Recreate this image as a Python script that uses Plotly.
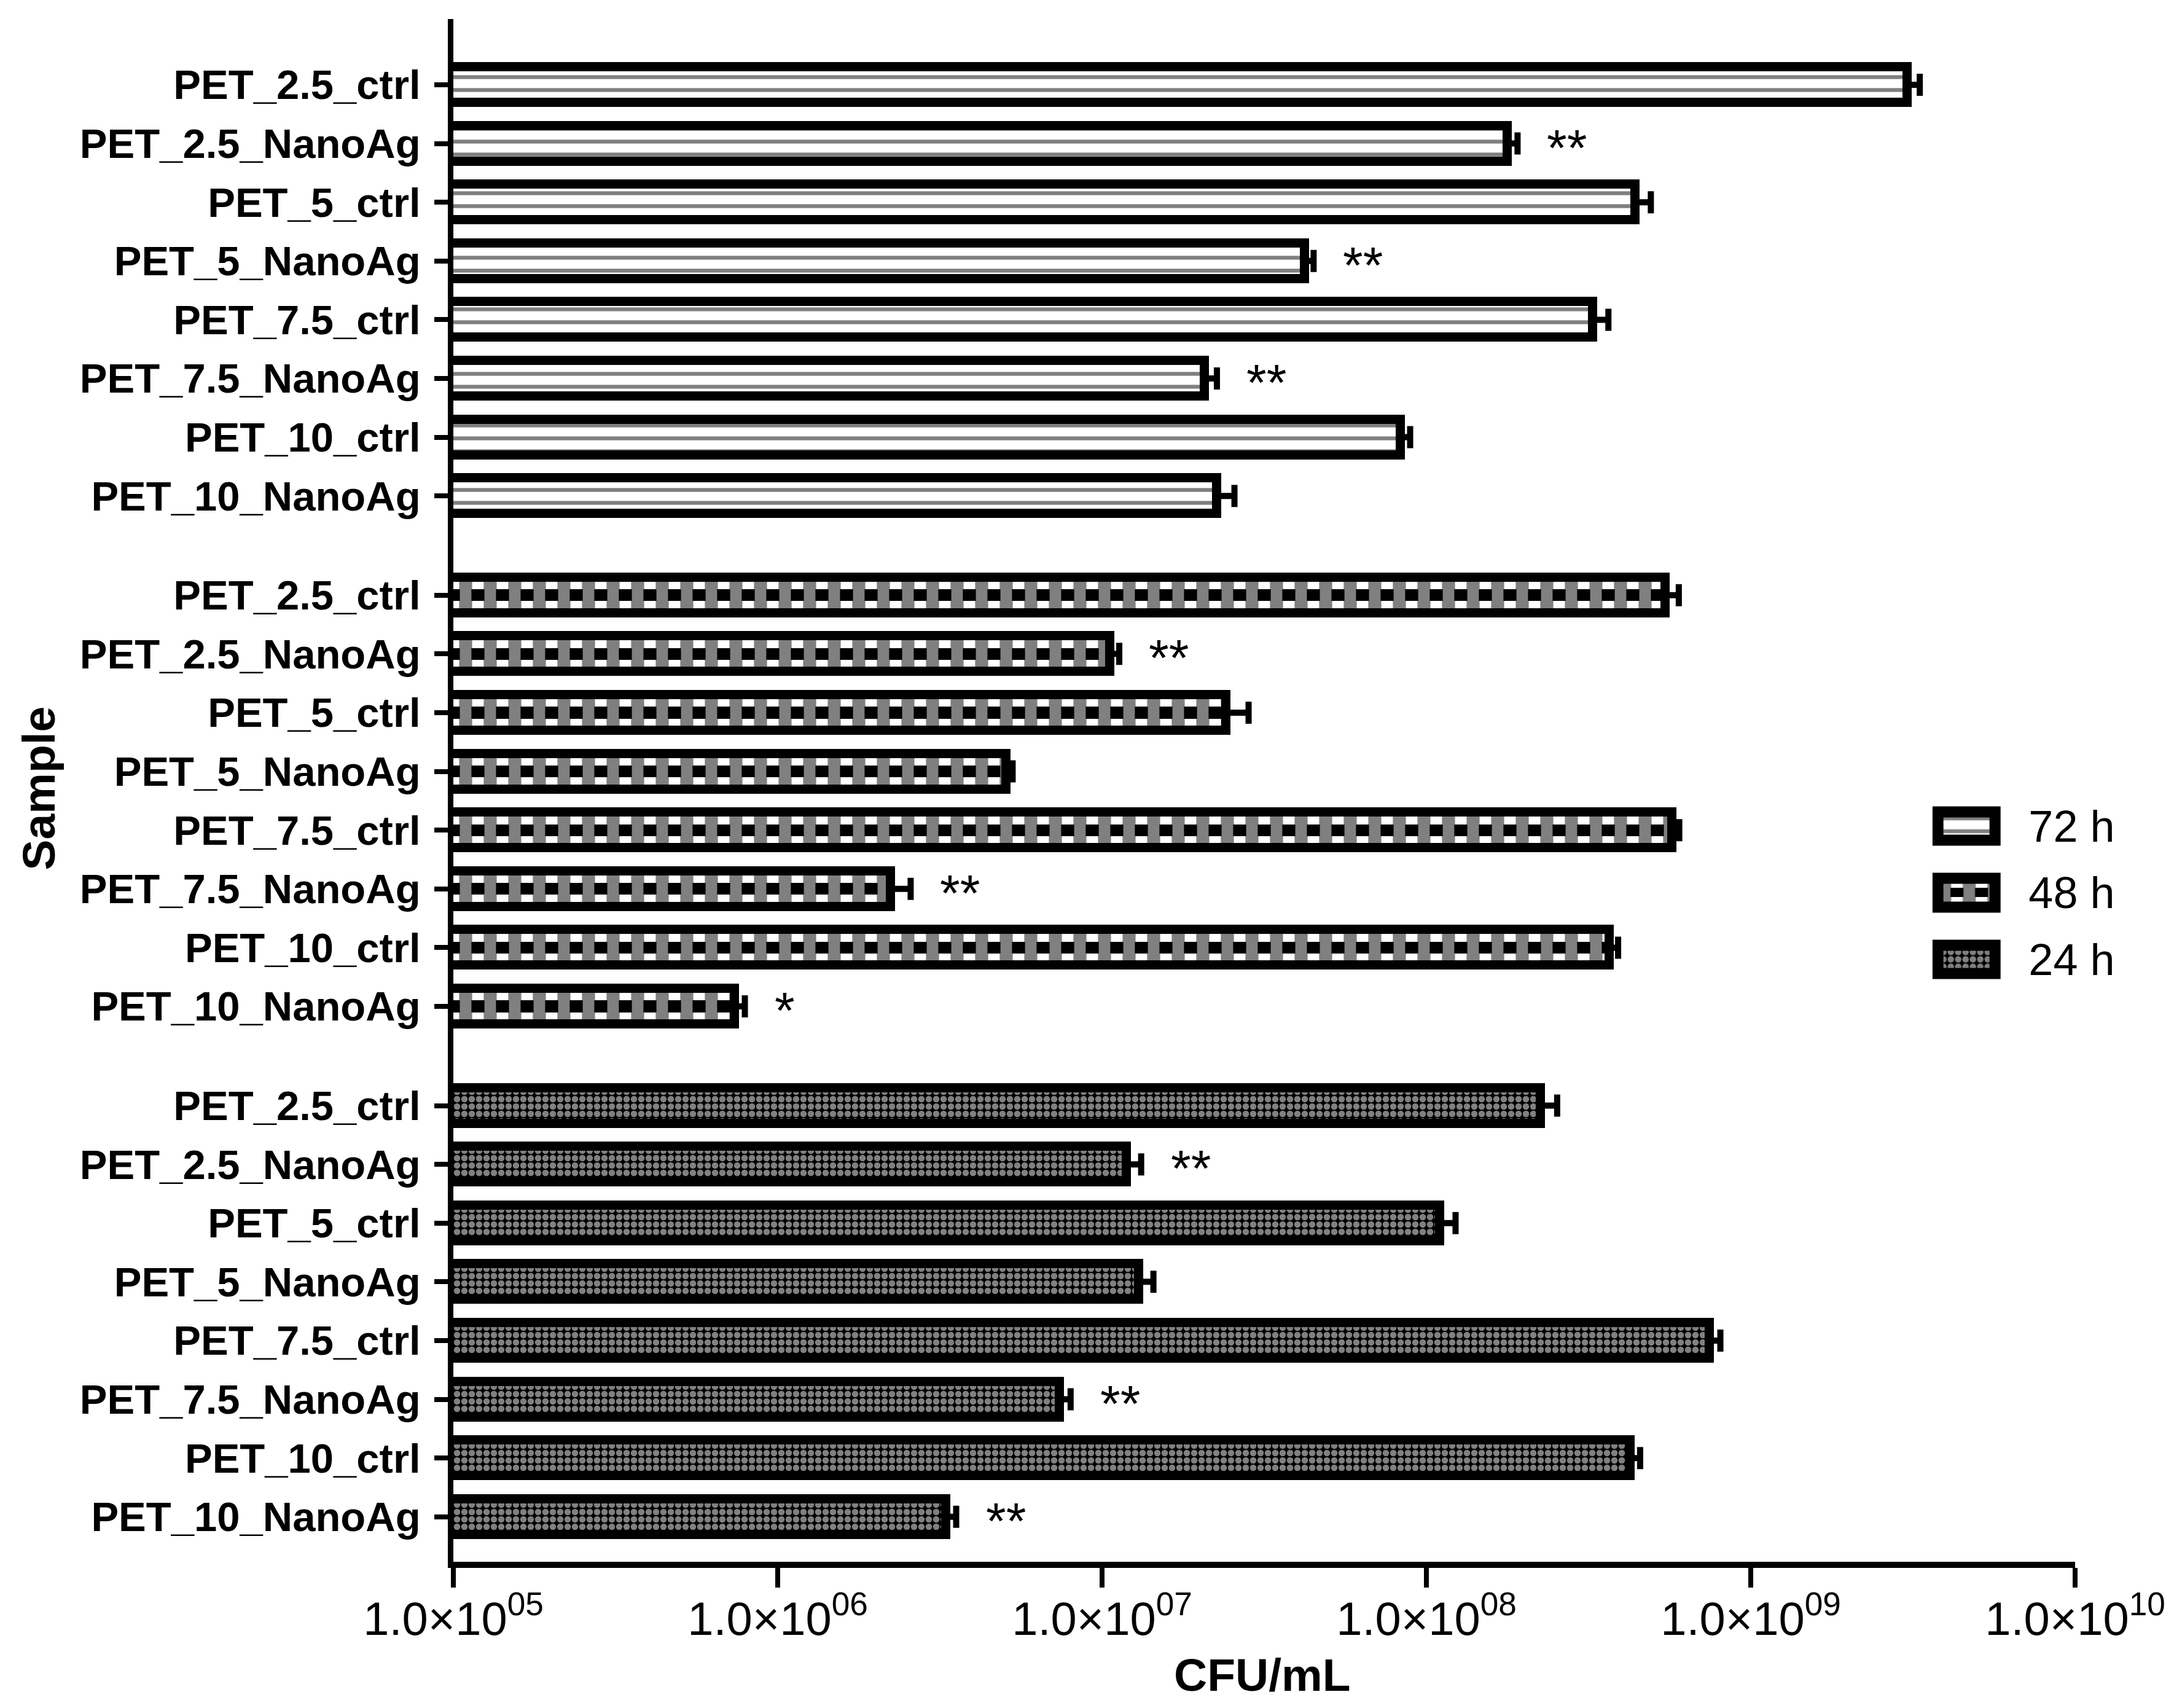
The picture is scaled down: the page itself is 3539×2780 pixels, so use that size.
import math
import plotly.graph_objects as go

# ---------------- data ----------------
SAMPLES = ["PET_2.5_ctrl", "PET_2.5_NanoAg", "PET_5_ctrl", "PET_5_NanoAg",
           "PET_7.5_ctrl", "PET_7.5_NanoAg", "PET_10_ctrl", "PET_10_NanoAg"]
TIMES = ["72 h", "48 h", "24 h"]

CFU_72H = [3.04e9, 1.78e8, 4.40e8, 4.22e7, 3.26e8, 2.07e7, 8.34e7, 2.26e7]
ERR_72H = [0.28e9, 0.13e8, 0.52e8, 0.27e7, 0.38e8, 0.19e7, 0.57e7, 0.30e7]
SIG_72H = ["", "**", "", "**", "", "**", "", ""]

CFU_48H = [5.45e8, 1.06e7, 2.41e7, 5.06e6, 5.72e8, 2.23e6, 3.66e8, 7.37e5]
ERR_48H = [0.55e8, 0.07e7, 0.42e7, 0.24e6, 0.30e8, 0.34e6, 0.24e8, 0.55e5]
SIG_48H = ["", "**", "", "", "", "**", "", "*"]

CFU_24H = [2.25e8, 1.19e7, 1.10e8, 1.30e7, 7.46e8, 7.40e6, 4.26e8, 3.31e6]
ERR_24H = [0.28e8, 0.13e7, 0.13e8, 0.14e7, 0.60e8, 0.60e6, 0.30e8, 0.24e6]
SIG_24H = ["", "**", "", "", "", "**", "", "**"]

X_TICK_VALUES = [1e5, 1e6, 1e7, 1e8, 1e9, 1e10]
X_TICK_TEXT = ["1.0×10<sup>05</sup>", "1.0×10<sup>06</sup>", "1.0×10<sup>07</sup>",
               "1.0×10<sup>08</sup>", "1.0×10<sup>09</sup>", "1.0×10<sup>10</sup>"]
X_TITLE = "CFU/mL"
Y_TITLE = "Sample"
SWATCH_LENGTH = 1

# ---------------- styling / layout constants ----------------
FONT = "Liberation Sans, Arial, sans-serif"
W, H = 3539, 2780
ML, MR, MT, MB = 730, 169, 23, 246
GROUP_STRIDE = 8.69
BAR_W = 0.607
OUTLINE = 15
ERR_STYLE = dict(color="black", thickness=10, width=18)

groups = [
    (TIMES[0], CFU_72H, ERR_72H, SIG_72H),
    (TIMES[1], CFU_48H, ERR_48H, SIG_48H),
    (TIMES[2], CFU_24H, ERR_24H, SIG_24H),
]

fig = go.Figure()

PAT_72 = dict(shape="-", fgcolor="black", bgcolor="white", size=21, solidity=0.3)
PAT_24 = dict(shape=".", fgcolor="white", bgcolor="black", size=12, solidity=0.6)
PAT_48_A = dict(shape="|", fgcolor="black", bgcolor="white", size=40, solidity=0.53)
PAT_48_B = dict(shape="|", fgcolor="white", bgcolor="black", size=40, solidity=0.47)


def add_checker_rows(y, x, width, xaxis, yaxis):
    """Three rows of vertical stripes (alternately inverted) -> checkerboard."""
    third = width / 3.0
    edges = [-width / 2.0, -third / 2.0, third / 2.0, width / 2.0]
    pats = [PAT_48_A, PAT_48_B, PAT_48_A]
    for k in range(3):
        fig.add_trace(go.Bar(
            y=y, x=x, orientation="h",
            width=edges[k + 1] - edges[k], offset=edges[k],
            marker=dict(color="white", line=dict(width=0), pattern=pats[k]),
            showlegend=False, hoverinfo="skip", xaxis=xaxis, yaxis=yaxis,
        ))


all_pos = []
all_text = []
annotations = []
for g, (tlabel, vals, errs, sigs) in enumerate(groups):
    pos = [g * GROUP_STRIDE + i for i in range(len(SAMPLES))]
    all_pos += pos
    all_text += SAMPLES
    err_x = dict(type="data", symmetric=False, array=errs,
                 arrayminus=[0] * len(errs), **ERR_STYLE)
    if g == 1:
        add_checker_rows(pos, vals, BAR_W, "x", "y")
        fig.add_trace(go.Bar(
            y=pos, x=vals, orientation="h", width=BAR_W, name=tlabel,
            marker=dict(color="rgba(0,0,0,0)", line=dict(color="black", width=OUTLINE)),
            error_x=err_x, showlegend=False,
        ))
    else:
        pat = PAT_72 if g == 0 else PAT_24
        fig.add_trace(go.Bar(
            y=pos, x=vals, orientation="h", width=BAR_W, name=tlabel,
            marker=dict(color="white", line=dict(color="black", width=OUTLINE), pattern=pat),
            error_x=err_x, showlegend=False,
        ))
    for p, v, e, s in zip(pos, vals, errs, sigs):
        if s:
            annotations.append(dict(
                x=math.log10(v + e), y=p, xref="x", yref="y", text=s,
                showarrow=False, xanchor="left", yanchor="middle",
                xshift=46, yshift=-7,
                font=dict(family=FONT, size=84, color="black"),
            ))

# ---------------- legend as a small subplot ----------------
LEG_W = 0.43
LEG_LINE = 18
leg_pos = list(range(len(TIMES)))
sw = [SWATCH_LENGTH] * len(TIMES)
# 72 h
fig.add_trace(go.Bar(y=[leg_pos[0]], x=[sw[0]], orientation="h", width=LEG_W,
                     marker=dict(color="white", line=dict(color="black", width=LEG_LINE), pattern=PAT_72),
                     showlegend=False, hoverinfo="skip", xaxis="x2", yaxis="y2"))
# 48 h
third = LEG_W / 3.0
edges = [-LEG_W / 2.0, -third / 2.0, third / 2.0, LEG_W / 2.0]
for k, pat in enumerate([PAT_48_A, PAT_48_B, PAT_48_A]):
    fig.add_trace(go.Bar(y=[leg_pos[1]], x=[sw[1]], orientation="h",
                         width=edges[k + 1] - edges[k], offset=edges[k],
                         marker=dict(color="white", line=dict(width=0), pattern=pat),
                         showlegend=False, hoverinfo="skip", xaxis="x2", yaxis="y2"))
fig.add_trace(go.Bar(y=[leg_pos[1]], x=[sw[1]], orientation="h", width=LEG_W,
                     marker=dict(color="rgba(0,0,0,0)", line=dict(color="black", width=LEG_LINE)),
                     showlegend=False, hoverinfo="skip", xaxis="x2", yaxis="y2"))
# 24 h
fig.add_trace(go.Bar(y=[leg_pos[2]], x=[sw[2]], orientation="h", width=LEG_W,
                     marker=dict(color="white", line=dict(color="black", width=LEG_LINE), pattern=PAT_24),
                     showlegend=False, hoverinfo="skip", xaxis="x2", yaxis="y2"))

# ---------------- titles ----------------
annotations.append(dict(text=X_TITLE, xref="paper", yref="paper", x=0.4985, y=-0.0733,
                        xanchor="center", yanchor="middle", showarrow=False,
                        font=dict(family=FONT, size=75, color="black", weight="bold")))
annotations.append(dict(text=Y_TITLE, xref="paper", yref="paper", x=-0.2555, y=0.5014,
                        xanchor="center", yanchor="middle", showarrow=False, textangle=-90,
                        font=dict(family=FONT, size=75, color="black", weight="bold")))

fig.update_layout(
    width=W, height=H,
    margin=dict(l=ML, r=MR, t=MT, b=MB, pad=0),
    paper_bgcolor="white", plot_bgcolor="white",
    barmode="overlay", bargap=0,
    showlegend=False,
    annotations=annotations,
    font=dict(family=FONT, color="black"),
    xaxis=dict(type="log", range=[5, 10], tickvals=X_TICK_VALUES, ticktext=X_TICK_TEXT,
               ticks="outside", ticklen=32, tickwidth=8, tickcolor="black",
               showline=True, linewidth=10, linecolor="black",
               showgrid=False, zeroline=False, ticklabelstandoff=-14,
               tickfont=dict(family=FONT, size=76, color="black")),
    yaxis=dict(range=[25.146, -1.119], tickvals=all_pos, ticktext=all_text,
               ticks="outside", ticklen=22, tickwidth=8, tickcolor="black",
               showline=True, linewidth=9, linecolor="black",
               showgrid=False, zeroline=False, ticklabelstandoff=9,
               tickfont=dict(family=FONT, size=67, color="black", weight="bold")),
    xaxis2=dict(domain=[0.9120, 0.9543], range=[-0.1, 1.1], anchor="y2",
                showline=False, showgrid=False, zeroline=False, showticklabels=False, ticks=""),
    yaxis2=dict(domain=[0.3646, 0.5028], range=[2.6, -0.6], anchor="x2", side="right",
                tickvals=leg_pos, ticktext=TIMES, ticks="", showline=False,
                showgrid=False, zeroline=False, ticklabelstandoff=44,
                tickfont=dict(family=FONT, size=72, color="black")),
)

fig.write_html("out.html")
